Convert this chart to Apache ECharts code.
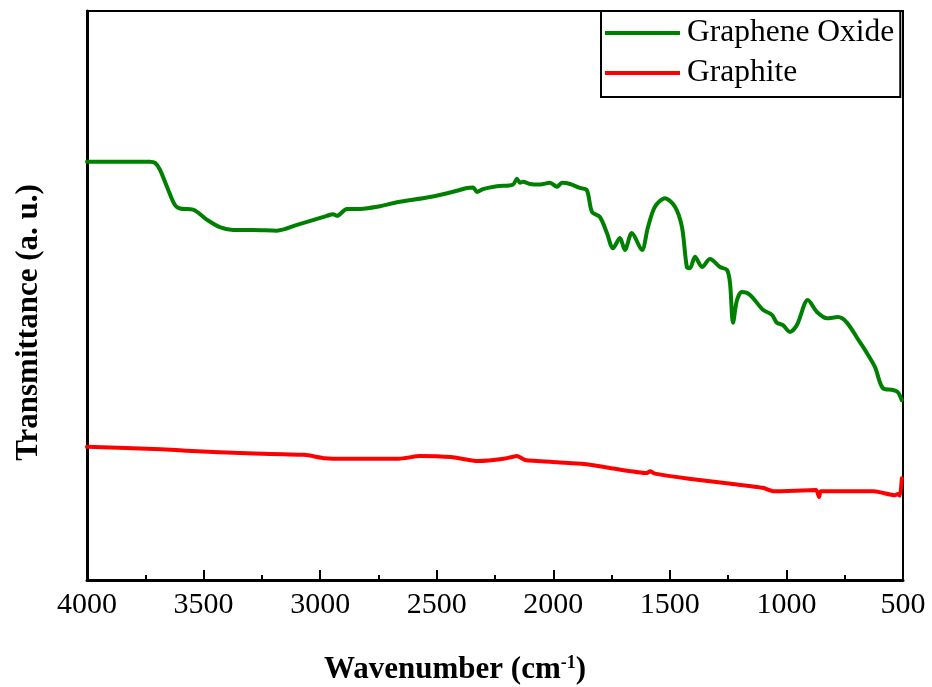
<!DOCTYPE html>
<html>
<head>
<meta charset="utf-8">
<script src="https://cdn.jsdelivr.net/npm/echarts@6/dist/echarts.min.js"></script>
<style>
  html, body { margin: 0; padding: 0; background: #ffffff; }
  #chart { width: 932px; height: 687px; }
</style>
</head>
<body>
<div id="chart"></div>
<script>
// FTIR spectra: wavenumber (cm^-1) and transmittance (arbitrary units)
const goWavenumber = [4000, 3730, 3708, 3687, 3657, 3623, 3601, 3545, 3485, 3430, 3374, 3288, 3185, 3099, 2971, 2945, 2928, 2885, 2842, 2743, 2670, 2529, 2413, 2370, 2344, 2327, 2302, 2242, 2173, 2156, 2143, 2130, 2100, 2057, 2014, 1984, 1963, 1928, 1886, 1856, 1834, 1800, 1770, 1744, 1714, 1693, 1663, 1620, 1594, 1564, 1521, 1478, 1448, 1427, 1414, 1392, 1362, 1328, 1285, 1255, 1242, 1229, 1212, 1191, 1156, 1101, 1062, 1041, 1015, 985, 955, 908, 869, 826, 779, 740, 685, 655, 620, 586, 543, 522, 505];
const goTransmittance = [73.5, 73.5, 73.3, 72.1, 69.1, 65.9, 65.3, 65.1, 63.3, 62.0, 61.5, 61.5, 61.4, 62.4, 64.0, 64.3, 64.0, 65.2, 65.2, 65.7, 66.4, 67.3, 68.4, 68.9, 69.0, 68.2, 68.7, 69.2, 69.5, 70.5, 69.8, 70.0, 69.6, 69.5, 69.8, 69.1, 69.8, 69.6, 68.9, 68.5, 64.7, 63.8, 61.0, 58.3, 60.1, 58.0, 61.0, 58.0, 62.0, 65.6, 67.1, 65.6, 62.0, 55.0, 54.8, 56.8, 55.0, 56.4, 55.0, 54.5, 52.2, 45.2, 49.2, 50.6, 50.1, 47.5, 46.6, 45.2, 44.8, 43.6, 44.8, 49.2, 47.1, 46.0, 46.2, 45.2, 41.8, 39.9, 37.4, 33.7, 33.4, 33.0, 31.6];

const graphiteWavenumber = [4000, 3683, 3571, 3344, 3069, 2979, 2889, 2662, 2572, 2439, 2323, 2212, 2156, 2121, 1984, 1868, 1757, 1598, 1585, 1564, 1418, 1238, 1101, 1054, 873, 860, 852, 625, 535, 522, 513, 505];
const graphiteTransmittance = [23.4, 23.0, 22.7, 22.3, 22.0, 21.4, 21.3, 21.3, 21.8, 21.6, 20.9, 21.3, 21.8, 21.1, 20.7, 20.4, 19.7, 18.8, 19.1, 18.7, 17.8, 16.9, 16.2, 15.6, 15.8, 14.6, 15.6, 15.6, 14.9, 15.1, 14.8, 17.9];

const seriesNames = ['Graphene Oxide', 'Graphite'];
const seriesColors = ['#008000', '#ff0000'];

const xMin = 500, xMax = 4000, xStep = 500;

const pairs = (xs, ys) => xs.map((x, i) => [x, ys[i]]);

const serif = '"Liberation Serif", "Times New Roman", serif';

const chart = echarts.init(document.getElementById('chart'), null, { renderer: 'canvas' });

chart.setOption({
  backgroundColor: '#ffffff',
  animation: false,
  grid: {
    left: 87, right: 29, top: 11, bottom: 107,
    containLabel: false,
    outerBoundsMode: 'none',
    show: true, borderColor: '#000', borderWidth: 2, backgroundColor: 'transparent'
  },
  legend: {
    data: seriesNames,
    orient: 'vertical',
    left: 601, top: 11,
    padding: [2, 6, 4, 4],
    itemGap: 0,
    itemWidth: 75, itemHeight: 4,
    icon: 'rect',
    borderColor: '#000', borderWidth: 2,
    backgroundColor: '#fff',
    textStyle: { fontFamily: serif, fontSize: 31.5, color: '#000', lineHeight: 40, padding: [0, 0, 0, 2] }
  },
  xAxis: {
    type: 'value',
    inverse: true,
    min: xMin, max: xMax, interval: xStep,
    name: 'Wavenumber (cm{sup|-1})',
    nameLocation: 'middle',
    nameGap: 74,
    nameTextStyle: {
      fontFamily: serif, fontSize: 31, fontWeight: 'bold', color: '#000',
      padding: [0, 80, 0, 0],
      rich: {
        sup: { fontFamily: serif, fontSize: 18, fontWeight: 'bold', color: '#000', verticalAlign: 'top', padding: [0, 0, 14, 0] }
      }
    },
    axisLine: { show: true, lineStyle: { color: '#000', width: 3 } },
    axisTick: { show: true, inside: true, length: 10, lineStyle: { color: '#000', width: 2 } },
    minorTick: { show: true, splitNumber: 2, length: 5, lineStyle: { color: '#000', width: 2 } },
    axisLabel: { fontFamily: serif, fontSize: 30, color: '#000', margin: 10, formatter: v => String(v) },
    splitLine: { show: false }
  },
  yAxis: {
    type: 'value',
    min: 0, max: 100,
    name: 'Transmittance (a. u.)',
    nameLocation: 'middle',
    nameRotate: 90,
    nameGap: 43,
    nameTextStyle: { fontFamily: serif, fontSize: 31, fontWeight: 'bold', color: '#000', padding: [0, 54, 0, 0] },
    axisLine: { show: true, lineStyle: { color: '#000', width: 3 } },
    axisTick: { show: false },
    axisLabel: { show: false },
    splitLine: { show: false }
  },
  series: [
    {
      name: seriesNames[0], type: 'line',
      data: pairs(goWavenumber, goTransmittance),
      showSymbol: false, symbol: 'none',
      smooth: 0.3,
      color: seriesColors[0],
      lineStyle: { color: seriesColors[0], width: 4, join: 'round', cap: 'round' }
    },
    {
      name: seriesNames[1], type: 'line',
      data: pairs(graphiteWavenumber, graphiteTransmittance),
      showSymbol: false, symbol: 'none',
      smooth: 0.2,
      color: seriesColors[1],
      lineStyle: { color: seriesColors[1], width: 4, join: 'round', cap: 'round' }
    }
  ]
});
</script>
</body>
</html>
